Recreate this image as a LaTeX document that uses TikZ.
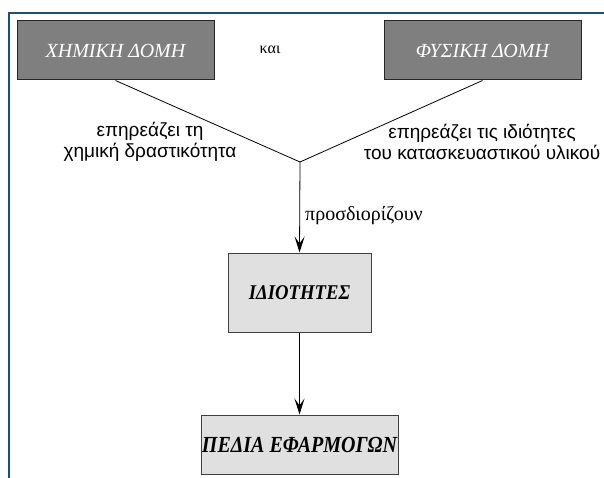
\documentclass[tikz,border=0pt]{standalone}
\usepackage{fontspec}
\setmainfont{Liberation Serif}
\newfontfamily\labsans{Liberation Sans}
\usetikzlibrary{arrows.meta}
\definecolor{frameblue}{HTML}{1F4E7A}
\definecolor{darkbox}{HTML}{7F7F7F}
\definecolor{lightbox}{HTML}{E0E0E0}
\begin{document}
\begin{tikzpicture}[x=1pt,y=1pt,
  topbox/.style={draw=black!85,line width=1pt,fill=darkbox,minimum width=197pt,minimum height=59pt,inner sep=0pt,text=white,font=\fontsize{20}{22}\selectfont\itshape},
  lowbox/.style={draw=black!75,line width=1pt,fill=lightbox,inner sep=0pt,text=black,font=\fontsize{21}{24}\selectfont\bfseries\itshape},
  lab/.style={font=\labsans\fontsize{19}{21}\selectfont,align=center,inner sep=0pt},
  conn/.style={line width=0.8pt},
  arr/.style={line width=0.8pt,-{Stealth[length=16pt,width=10pt,inset=7pt]}}]
\useasboundingbox (0,0) rectangle (604,-478);
\draw[frameblue,line width=1.8pt] (610,-13) -- (9,-13) -- (9,-485);
\node[topbox] (chem) at (115.5,-50.5) {ΧΗΜΙΚΗ ΔΟΜΗ};
\node[topbox] (phys) at (482.5,-50.5) {ΦΥΣΙΚΗ ΔΟΜΗ};
\node[font=\fontsize{16}{18}\selectfont,inner sep=0pt] (kai) at (270,-50) {και};
\coordinate (j) at (300,-162);
\node[lowbox,minimum width=143pt,minimum height=79pt] (prop) at (299.5,-292.5) {\scalebox{0.89}[1]{ΙΔΙΟΤΗΤΕΣ}};
\node[lowbox,minimum width=197pt,minimum height=59pt] (app) at (299.5,-444.5) {\scalebox{0.87}[1]{\fontsize{23}{25}\selectfont ΠΕΔΙΑ ΕΦΑΡΜΟΓΩΝ}};
\draw[conn] (chem.south) -- (j) -- (phys.south);
\draw[arr] (j) -- (prop.north);
\draw[arr] (prop.south) -- (app.north);
\node[lab] (l1) at (150,-142) {επηρεάζει τη\\χημική δραστικότητα};
\node[lab] (l2) at (482,-142) {επηρεάζει τις ιδιότητες\\του κατασκευαστικού υλικού};
\node[font=\fontsize{20}{22}\selectfont,anchor=west,inner sep=0pt] (l3) at (305,-216) {προσδιορίζουν};
\end{tikzpicture}
\end{document}
